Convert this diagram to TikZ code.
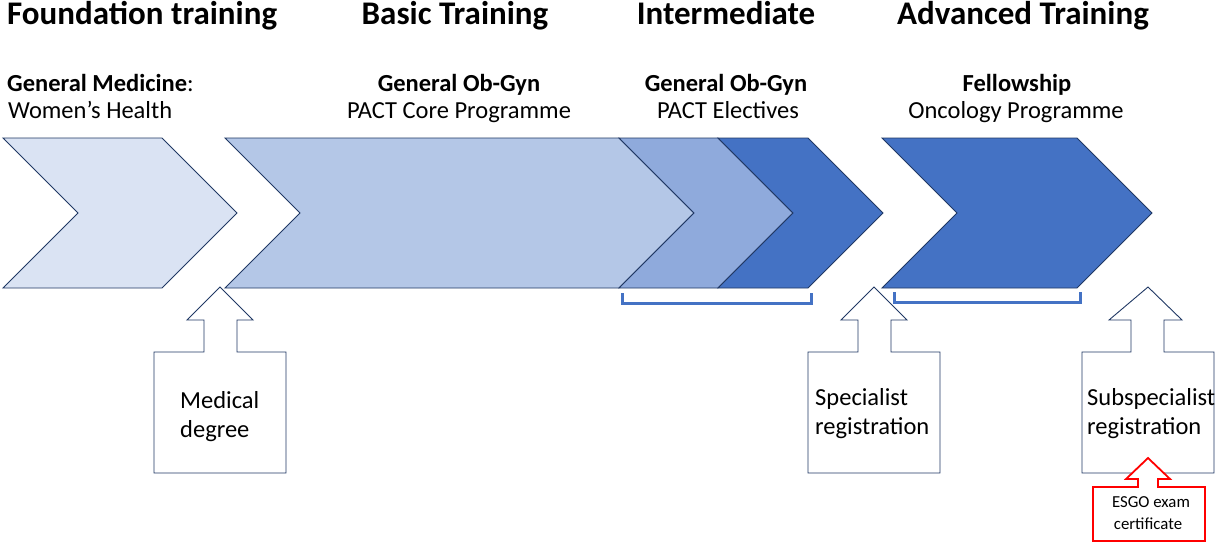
\documentclass[tikz,border=0pt]{standalone}
\usepackage{fontspec}
\setmainfont{Carlito}
\definecolor{edge}{HTML}{203864}
\definecolor{paleblue}{HTML}{DAE3F3}
\definecolor{lightblue}{HTML}{B4C7E7}
\definecolor{midblue}{HTML}{8FAADC}
\definecolor{strongblue}{HTML}{4472C4}
\definecolor{alertred}{HTML}{FF0000}
\begin{document}
\begin{tikzpicture}[x=1pt,y=-1pt,
  chevron/.style={draw=edge,line width=0.9pt,line join=miter},
  bracket/.style={draw=strongblue,line width=3pt},
  callout/.style={draw=edge,line width=0.9pt,fill=white},
  redcallout/.style={draw=alertred,line width=1.8pt,fill=white},
  header/.style={inner sep=0pt,font=\fontsize{33}{38}\selectfont\bfseries},
  subtitle/.style={inner sep=0pt,font=\fontsize{24.5}{27}\selectfont},
  boxtext/.style={inner sep=0pt,align=left,font=\fontsize{24.5}{29}\selectfont},
  smalltext/.style={inner sep=0pt,align=center,font=\fontsize{16.8}{22}\selectfont}]
\useasboundingbox (0,0) rectangle (1215,543);

% stage headers
\node[header,anchor=base west] (hfound) at (7,25) {Foundation training};
\node[header,anchor=base] (hbasic) at (455,25) {Basic Training};
\node[header,anchor=base] (hinter) at (726,25) {Intermediate};
\node[header,anchor=base] (hadv) at (1023,25) {Advanced Training};

% programme titles
\node[subtitle,anchor=base west] (sfound1) at (7,91) {\textbf{General Medicine}:};
\node[subtitle,anchor=base west] (sfound2) at (8,118) {Women’s Health};
\node[subtitle,anchor=base] (sbasic1) at (459,91) {\textbf{General Ob-Gyn}};
\node[subtitle,anchor=base] (sbasic2) at (459,118) {PACT Core Programme};
\node[subtitle,anchor=base] (sinter1) at (726,91) {\textbf{General Ob-Gyn}};
\node[subtitle,anchor=base] (sinter2) at (728,118) {PACT Electives};
\node[subtitle,anchor=base] (sadv1) at (1017,91) {\textbf{Fellowship}};
\node[subtitle,anchor=base] (sadv2) at (1016,118) {Oncology Programme};

% chevrons
\path[chevron,fill=paleblue] (3,138) -- (162,138) -- (237,213) -- (162,288) -- (3,288) -- (78,213) -- cycle;
\path[chevron,fill=lightblue] (225,138) -- (619,138) -- (694,213) -- (619,288) -- (225,288) -- (300,213) -- cycle;
\path[chevron,fill=midblue] (619,138) -- (718,138) -- (793,213) -- (718,288) -- (619,288) -- (694,213) -- cycle;
\path[chevron,fill=strongblue] (718,138) -- (808,138) -- (883,213) -- (808,288) -- (718,288) -- (793,213) -- cycle;
\path[chevron,fill=strongblue] (882,138) -- (1077,138) -- (1152,213) -- (1077,288) -- (882,288) -- (957,213) -- cycle;

% brackets under the electives and the fellowship
\draw[bracket] (622,293) -- (622,303) -- (811,303) -- (811,293);
\draw[bracket] (894,292) -- (894,302) -- (1080,302) -- (1080,292);

% entry requirements
\path[callout] (154,473) -- (154,352) -- (204,352) -- (204,320) -- (187,320) -- (220,287)
  -- (253,320) -- (237,320) -- (237,352) -- (286,352) -- (286,473) -- cycle;
\node[boxtext,anchor=base west] (med1) at (180,408) {Medical};
\node[boxtext,anchor=base west] (med2) at (180,437) {degree};

\path[callout] (808,473) -- (808,352) -- (858,352) -- (858,320) -- (841,320) -- (874,287)
  -- (907,320) -- (891,320) -- (891,352) -- (940,352) -- (940,473) -- cycle;
\node[boxtext,anchor=base west] (spec1) at (815,405) {Specialist};
\node[boxtext,anchor=base west] (spec2) at (815,434) {registration};

\path[callout] (1082,473) -- (1082,352) -- (1131,352) -- (1131,320) -- (1109,320) -- (1148,287)
  -- (1182,320) -- (1164,320) -- (1164,352) -- (1214,352) -- (1214,473) -- cycle;
\node[boxtext,anchor=base west] (sub1) at (1087,405) {Subspecialist};
\node[boxtext,anchor=base west] (sub2) at (1087,434) {registration};

\path[redcallout] (1093,541) -- (1093,487) -- (1138,487) -- (1138,479) -- (1126,479) -- (1148,458)
  -- (1170,479) -- (1158,479) -- (1158,487) -- (1205,487) -- (1205,541) -- cycle;
\node[smalltext,anchor=base] (esgo1) at (1151,507) {ESGO exam};
\node[smalltext,anchor=base] (esgo2) at (1148,529) {certificate};
\end{tikzpicture}
\end{document}
